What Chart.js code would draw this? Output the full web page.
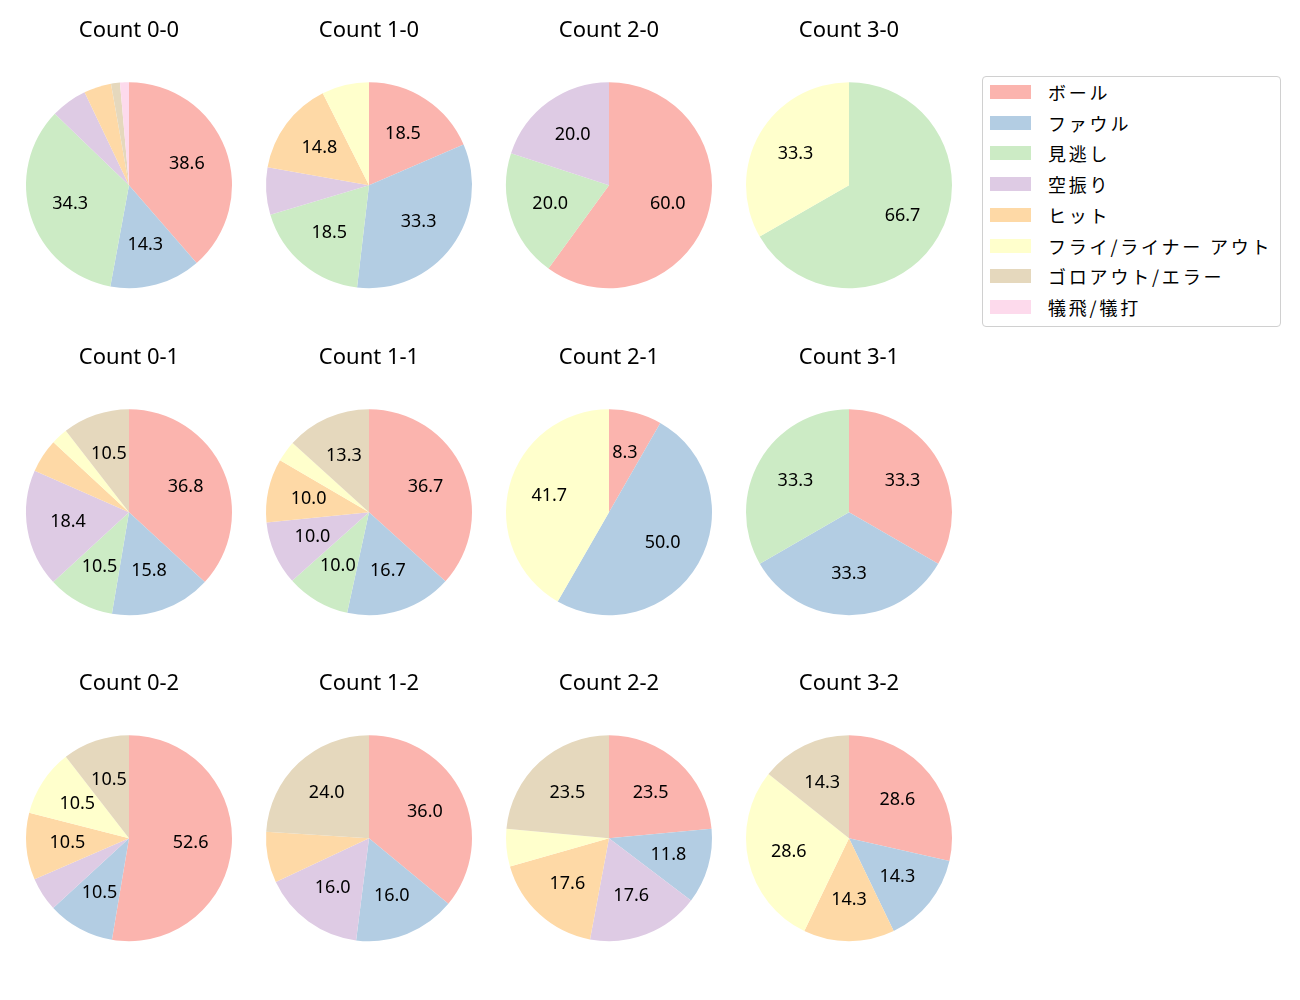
<!DOCTYPE html>
<html>
<head>
<meta charset="utf-8">
<script src="https://cdn.jsdelivr.net/npm/chart.js@4/dist/chart.umd.min.js"></script>
<style>
  html, body { margin: 0; padding: 0; background: #fff; }
  body { width: 1300px; height: 1000px; position: relative; overflow: hidden;
         font-family: "Noto Sans", "Noto Sans CJK JP", sans-serif; }
  .cell { position: absolute; width: 240px; height: 312px; }
  #legend { position: absolute; left: 982px; top: 76px; width: 299px; height: 251px;
            border: 1px solid #d0d0d0; border-radius: 4px; box-sizing: border-box; }
  .li { position: absolute; left: 7px; height: 20px; width: 285px; }
  .sw { position: absolute; left: 0; top: 3px; width: 41px; height: 14px; }
  .lt { position: absolute; left: 58px; top: -3px; white-space: nowrap; font-size: 18px;
        line-height: 26px; letter-spacing: 2.8px; color: #000;
        font-family: "Noto Sans CJK JP", sans-serif; }
</style>
</head>
<body>
<div id="legend"></div>
<script>
const categories = ["ボール", "ファウル", "見逃し", "空振り", "ヒット", "フライ/ライナー アウト", "ゴロアウト/エラー", "犠飛/犠打"];
const counts = ["0-0", "1-0", "2-0", "3-0", "0-1", "1-1", "2-1", "3-1", "0-2", "1-2", "2-2", "3-2"];
const colors = ["#fbb4ae", "#b3cde3", "#ccebc5", "#decbe4", "#fed9a6", "#ffffcc", "#e5d8bd", "#fddaec"];

// percentages per count (same order as counts)
const ball    = [38.6, 18.5, 60.0, 0,    36.8, 36.7, 8.3,  33.3, 52.6, 36.0, 23.5, 28.6];
const foul    = [14.3, 33.3, 0,    0,    15.8, 16.7, 50.0, 33.3, 10.5, 16.0, 11.8, 14.3];
const looking = [34.3, 18.5, 20.0, 66.7, 10.5, 10.0, 0,    33.3, 0,    0,    0,    0];
const swing   = [5.7,  7.4,  20.0, 0,    18.4, 10.0, 0,    0,    5.3,  16.0, 17.6, 0];
const hit     = [4.3,  14.8, 0,    0,    5.3,  10.0, 0,    0,    10.5, 8.0,  17.6, 14.3];
const fly     = [0,    7.4,  0,    33.3, 2.6,  3.3,  41.7, 0,    10.5, 0,    5.9,  28.6];
const ground  = [1.4,  0,    0,    0,    10.5, 13.3, 0,    0,    10.5, 24.0, 23.5, 14.3];
const sac     = [1.4,  0,    0,    0,    0,    0,    0,    0,    0,    0,    0,    0];
const series = [ball, foul, looking, swing, hit, fly, ground, sac];

const FONT = '"Noto Sans", "Noto Sans CJK JP", sans-serif';
const minLabel = 8.1;

const pctLabels = {
  id: 'pctLabels',
  afterDatasetsDraw(chart) {
    const ctx = chart.ctx;
    const meta = chart.getDatasetMeta(0);
    const data = chart.data.datasets[0].data;
    ctx.save();
    ctx.font = '18px ' + FONT;
    ctx.fillStyle = '#000';
    ctx.textAlign = 'center';
    ctx.textBaseline = 'middle';
    meta.data.forEach((arc, i) => {
      const v = data[i];
      if (v < minLabel) return;
      const p = arc.getProps(['x', 'y', 'startAngle', 'endAngle', 'outerRadius'], true);
      const mid = (p.startAngle + p.endAngle) / 2;
      const r = p.outerRadius * 0.6;
      ctx.fillText(v.toFixed(1), p.x + Math.cos(mid) * r, p.y + Math.sin(mid) * r);
    });
    ctx.restore();
  }
};

const colX = [129, 369, 609, 849];
const rowY = [185, 512, 838.5];

counts.forEach((c, k) => {
  const col = k % 4, row = Math.floor(k / 4);
  const div = document.createElement('div');
  div.className = 'cell';
  div.style.left = (colX[col] - 120) + 'px';
  div.style.top = (rowY[row] - 179.2) + 'px';
  const cv = document.createElement('canvas');
  div.appendChild(cv);
  document.body.appendChild(div);
  new Chart(cv, {
    type: 'pie',
    data: {
      labels: categories,
      datasets: [{
        data: series.map(s => s[k]),
        backgroundColor: colors,
        borderWidth: 0
      }]
    },
    options: {
      responsive: true,
      maintainAspectRatio: false,
      animation: false,
      radius: 103,
      layout: { padding: 0 },
      plugins: {
        legend: { display: false },
        tooltip: { enabled: false },
        title: {
          display: true,
          text: 'Count ' + c,
          color: '#000',
          font: { family: FONT, size: 22, weight: 'normal' },
          padding: { top: 12, bottom: 8 }
        }
      }
    },
    plugins: [pctLabels]
  });
});

const lg = document.getElementById('legend');
categories.forEach((name, i) => {
  const it = document.createElement('div');
  it.className = 'li';
  it.style.top = (5 + i * 30.7) + 'px';
  it.innerHTML = '<span class="sw" style="background:' + colors[i] + '"></span><span class="lt">' + name + '</span>';
  lg.appendChild(it);
});
</script>
</body>
</html>
